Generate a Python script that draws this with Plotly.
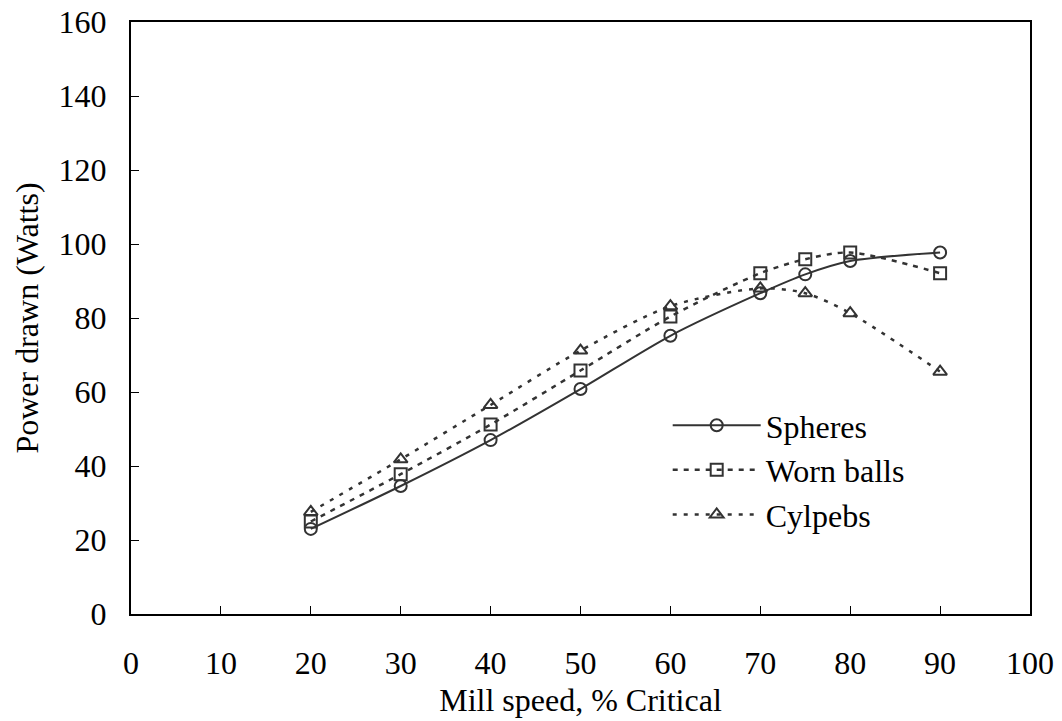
import plotly.graph_objects as go

speed = [20, 30, 40, 50, 60, 70, 75, 80, 90]
spheres = [23, 34.6, 47, 60.8, 75.2, 86.7, 91.8, 95.4, 97.7]
worn_balls = [25, 37.8, 51.2, 65.8, 80.4, 92.1, 95.9, 97.7, 92.1]
cylpebs = [27.6, 41.8, 56.5, 71.2, 83.2, 88.0, 86.7, 81.3, 65.5]

x_ticks = [0, 10, 20, 30, 40, 50, 60, 70, 80, 90, 100]
y_ticks = [0, 20, 40, 60, 80, 100, 120, 140, 160]

col = "#333333"
font = dict(family="Liberation Serif", size=32, color="black")

fig = go.Figure()
fig.add_trace(go.Scatter(
    x=speed, y=spheres, name="Spheres", mode="lines+markers",
    line=dict(color=col, width=2, shape="spline", smoothing=0.8),
    marker=dict(symbol="circle-open", size=12, color=col, line=dict(width=2, color=col)),
))
fig.add_trace(go.Scatter(
    x=speed, y=worn_balls, name="Worn balls", mode="lines+markers",
    line=dict(color=col, width=2.5, shape="spline", smoothing=0.8, dash="5px,6px"),
    marker=dict(symbol="square-open", size=12, color=col, line=dict(width=2, color=col)),
))
fig.add_trace(go.Scatter(
    x=speed, y=cylpebs, name="Cylpebs", mode="lines+markers",
    line=dict(color=col, width=2.5, shape="spline", smoothing=0.8, dash="4px,7px"),
    marker=dict(symbol="triangle-up-open", size=12, color=col, line=dict(width=2, color=col)),
))

axis_common = dict(
    showline=True, linecolor="black", linewidth=2, mirror=True,
    ticks="inside", ticklen=8, tickwidth=1, tickcolor="black",
    showgrid=False, zeroline=False, tickfont=font, automargin=False,
)
fig.update_xaxes(range=[0, 100], tickvals=x_ticks, ticklabelstandoff=20,
                 title=dict(text="Mill speed, % Critical", font=font, standoff=8),
                 **axis_common)
fig.update_yaxes(range=[0, 160], tickvals=y_ticks, ticklabelstandoff=16,
                 title=dict(text="Power drawn (Watts)", font=font, standoff=10),
                 **axis_common)

fig.update_layout(
    width=1062, height=721,
    margin=dict(l=131, r=32, t=22, b=107),
    plot_bgcolor="white", paper_bgcolor="white",
    font=font,
    legend=dict(x=0.597, y=0.365, xanchor="left", yanchor="top",
                bgcolor="rgba(0,0,0,0)", font=font, itemwidth=88,
                tracegroupgap=0),
)

fig.write_html("out.html")
